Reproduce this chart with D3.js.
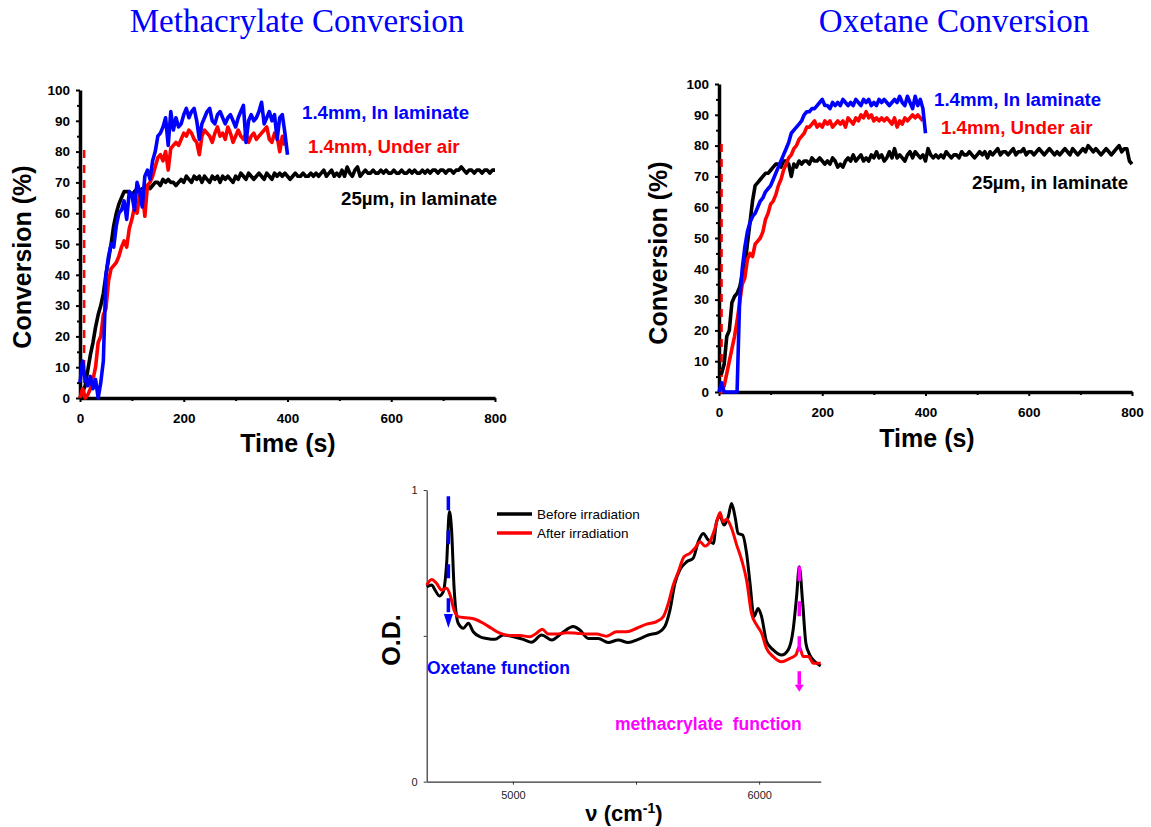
<!DOCTYPE html>
<html>
<head>
<meta charset="utf-8">
<script src="https://cdn.jsdelivr.net/npm/d3@7/dist/d3.min.js"></script>
<style>
    body { margin: 0; background: #fff; }
    svg { display: block; }
    .title { font-family: 'Times New Roman', 'Liberation Serif', serif; font-size: 33px; fill: #0000ff; text-anchor: middle; }
    .tick_lab { font-family: Arial, 'Liberation Sans', sans-serif; font-weight: bold; font-size: 13.5px; fill: #000; }
    .axis_label { font-family: Arial, 'Liberation Sans', sans-serif; font-weight: bold; font-size: 25px; fill: #000; text-anchor: middle; dominant-baseline: central; }
    .series_lab { font-family: Arial, 'Liberation Sans', sans-serif; font-weight: bold; font-size: 18.7px; dominant-baseline: central; }
    .spec_tick { font-family: Arial, 'Liberation Sans', sans-serif; font-size: 11px; fill: #222; }
    .legend_lab { font-family: Arial, 'Liberation Sans', sans-serif; font-size: 13.5px; fill: #000; dominant-baseline: central; }
</style>
</head>
<body>
<svg id="chart" width="1151" height="827"></svg>
<script>
// sampling step of the kinetic traces (s)
const STEP = 5;

// ---- Methacrylate conversion (%) every 5 s ----
const meth_blue = [
    5,12,6,4,7,3,6,0,5,12,40,46,50,49,56,60,61,64,58,67,
    66,61,70,67,62,72,74,71,77,80,85,86,88,91,82,93,87,91,88,89,
    92,94,91,93,94,90,84,89,91,93,94,90,89,92,93,91,89,91,92,90,
    88,91,93,95,83,90,92,90,91,93,96,89,91,93,90,92,84,91,92,86,
    79];
const meth_red = [
    0,3,0,1,3,6,10,18,20,27,29,38,42,43,44,46,49,51,49,55,
    58,62,60,66,67,59,69,70,72,75,78,79,77,80,74,81,82,83,82,84,
    86,85,87,86,84,83,79,85,87,86,85,83,86,88,85,86,84,88,86,83,
    85,87,85,84,86,83,85,86,84,85,86,87,88,84,83,86,85,80,85,82];
const meth_black = [
    0,2,4,9,14,18,23,27,30,34,40,45,50,56,60,63,65,67,67,67,
    66,67,68,67,68,68,69,68,69,70,70,69,71,70,71,70,70,69,70,71,
    70,72,71,70,72,71,72,70,72,71,70,72,71,72,70,72,71,72,71,70,
    72,71,73,72,71,73,72,71,72,73,72,71,73,72,71,73,72,73,72,73,
    72,71,72,73,72,72,73,72,72,73,72,73,72,73,74,72,73,74,72,73,
    72,74,72,75,73,72,74,75,72,73,74,73,73,74,73,73,74,73,74,73,
    73,74,73,73,74,73,73,74,73,74,73,73,74,73,74,73,74,74,73,74,
    74,73,74,74,73,74,74,75,74,73,74,74,73,74,74,73,74,74,73,74,
    74];

// ---- Oxetane conversion (%) every 5 s ----
const oxe_blue = [
    0,3,0,0,0,0,0,0,30,40,47,52,55,57,58,60,62,63,65,66,
    67,69,71,73,75,77,79,81,84,85,86,87,88,90,91,91,92,92,93,94,
    95,93,93,92,94,93,94,93,95,94,93,94,93,95,94,93,95,94,95,93,
    94,93,95,94,95,94,93,94,95,94,96,94,93,96,94,92,96,93,95,92,
    84];
const oxe_red = [
    0,0,2,6,10,14,18,23,29,35,37,43,45,44,48,49,50,52,56,58,
    61,62,64,67,69,72,74,76,77,79,80,82,83,84,86,86,87,88,86,87,
    86,88,87,88,86,87,88,87,88,86,89,88,87,89,88,90,89,91,89,90,
    88,89,88,89,88,89,88,87,89,86,88,87,89,88,89,90,89,90,89,88];
const oxe_black = [
    6,6,9,18,20,29,31,32,34,38,41,48,55,62,67,68,69,70,71,71,
    72,73,74,74,73,75,75,74,70,74,73,75,74,75,75,74,76,75,75,76,
    75,74,75,74,76,75,73,74,73,75,76,75,77,75,76,77,75,76,75,77,
    76,78,76,77,75,76,78,76,79,76,77,76,75,77,78,76,78,77,76,77,
    75,79,77,76,77,76,77,76,78,77,76,77,77,76,78,77,77,78,77,76,
    77,78,77,78,76,78,77,78,79,77,78,78,77,78,79,77,78,78,79,77,
    78,78,77,78,79,78,77,78,79,78,77,78,77,78,79,78,77,79,78,77,
    78,79,78,80,79,78,79,78,77,78,79,78,77,78,79,80,78,79,79,75,
    74];

// irradiation start (dashed red marker): [time s, height %]
const meth_lamp = [8, 82];
const oxe_lamp = [5, 82];

const series_names = ['1.4mm, In laminate', '1.4mm, Under air', '25µm, in laminate'];
const time_ticks = [0, 200, 400, 600, 800];
const conv_ticks = [0, 10, 20, 30, 40, 50, 60, 70, 80, 90, 100];

// ---- NIR spectra ----
const before_wn = [4650,4670,4684,4701,4717,4731,4742,4751,4761,4778,4799,4819,4839,4866,4894,4927,4961,5002,5042,5076,
    5117,5158,5198,5245,5272,5306,5347,5387,5428,5468,5509,5550,5590,5617,5638,5658,5678,5706,5732,5753,
    5773,5793,5814,5827,5841,5858,5875,5888,5902,5915,5933,5949,5963,5979,5996,6010,6030,6057,6091,6118,
    6138,6152,6163,6177,6190,6206,6227,6250];
const before_od = [.668,.674,.657,.637,.651,.749,.926,.863,.668,.543,.526,.543,.514,.497,.491,.488,.503,.497,.488,.478,
    .503,.486,.509,.532,.520,.491,.491,.477,.486,.477,.488,.503,.511,.532,.589,.680,.726,.754,.766,.823,
    .851,.829,.817,.891,.909,.880,.909,.954,.909,.851,.846,.783,.680,.566,.594,.566,.480,.452,.434,.452,
    .520,.634,.737,.611,.474,.434,.411,.397];
const after_wn = [4650,4670,4690,4711,4731,4745,4761,4778,4812,4846,4880,4913,4947,4988,5029,5069,5096,5119,5144,5177,
    5218,5259,5299,5340,5380,5421,5462,5503,5543,5584,5611,5631,5651,5672,5695,5719,5739,5760,5780,5800,
    5821,5841,5854,5868,5888,5909,5929,5949,5969,5990,6010,6030,6057,6091,6125,6149,6163,6179,6200,6220,6250];
const after_od = [.674,.693,.680,.657,.663,.640,.589,.566,.562,.557,.543,.526,.509,.501,.501,.497,.509,.523,.506,.506,
    .511,.509,.506,.506,.499,.514,.514,.526,.540,.549,.566,.611,.674,.720,.771,.783,.800,.823,.808,.823,
    .869,.923,.891,.900,.869,.811,.760,.691,.577,.537,.509,.457,.429,.411,.423,.434,.463,.429,.429,.406,.406];
const wn_ticks = [5000, 5500, 6000];
const od_ticks = [0, 0.5, 1];
// band positions: oxetane (4738) and methacrylate (6163), [wn, from OD, to OD]
const oxe_band = [4738, 0.979, 0.527];
const meth_band = [6163, 0.739, 0.308];

const FONT = "Arial, 'Liberation Sans', sans-serif";
let svg = d3.select('#chart');

function toPts(vals) {
    return vals.map((v, i) => [i * STEP, v]);
}

function draw_conv(cfg) {
    let g = svg.append('g');
    let x = d3.scaleLinear().domain([0, 800]).range([cfg.left, cfg.right]);
    let y = d3.scaleLinear().domain([0, 100]).range([cfg.bottom, cfg.top]);

    // title
    svg.append('text')
        .attr('class', 'title')
        .attr('x', cfg.titleX)
        .attr('y', 32)
        .text(cfg.title);

    // minor ticks
    g.append('g')
        .attr('transform', `translate(0, ${cfg.bottom})`)
        .call(d3.axisBottom(x).tickValues(d3.range(100, 800, 200)).tickSize(3).tickSizeOuter(0).tickFormat(''))
        .call(a => a.select('.domain').remove())
        .selectAll('line').attr('stroke-width', 2);
    g.append('g')
        .attr('transform', `translate(${cfg.left}, 0)`)
        .call(d3.axisLeft(y).tickValues(d3.range(5, 100, 10)).tickSize(3).tickSizeOuter(0).tickFormat(''))
        .call(a => a.select('.domain').remove())
        .selectAll('line').attr('stroke-width', 2);

    // x axis
    let ax = g.append('g')
        .attr('transform', `translate(0, ${cfg.bottom})`)
        .call(d3.axisBottom(x).tickValues(time_ticks).tickSize(4).tickSizeOuter(0).tickPadding(11));
    ax.select('.domain').attr('stroke-width', 3.5);
    ax.selectAll('line').attr('stroke-width', 2);
    ax.selectAll('text').attr('class', 'tick_lab').attr('font-family', null).attr('font-size', null);

    // y axis
    let ay = g.append('g')
        .attr('transform', `translate(${cfg.left}, 0)`)
        .call(d3.axisLeft(y).tickValues(conv_ticks).tickSize(4).tickSizeOuter(0).tickPadding(6));
    ay.select('.domain').attr('stroke-width', 3.5);
    ay.selectAll('line').attr('stroke-width', 2);
    ay.selectAll('text').attr('class', 'tick_lab').attr('font-family', null).attr('font-size', null);

    // axis labels
    g.append('text')
        .attr('class', 'axis_label')
        .attr('transform', `translate(${cfg.ylabX}, ${cfg.ylabY}) rotate(-90)`)
        .text('Conversion (%)');
    g.append('text')
        .attr('class', 'axis_label')
        .attr('x', cfg.xlabX)
        .attr('y', cfg.xlabY)
        .text('Time (s)');

    // lamp on marker
    g.append('line')
        .attr('x1', x(cfg.lamp[0])).attr('x2', x(cfg.lamp[0]))
        .attr('y1', y(0)).attr('y2', y(cfg.lamp[1]))
        .attr('stroke', '#ff0000')
        .attr('stroke-width', 2.5)
        .attr('stroke-dasharray', '8,7');

    let line = d3.line().x(d => x(d[0])).y(d => y(d[1]));
    let order = [[cfg.black, '#000000'], [cfg.red, '#ff0000'], [cfg.blue, '#0000ff']];
    order.forEach(s => {
        g.append('path')
            .datum(toPts(s[0]))
            .attr('d', line)
            .attr('fill', 'none')
            .attr('stroke', s[1])
            .attr('stroke-width', 3.6)
            .attr('stroke-linejoin', 'round');
    });

    // series labels
    let cols = ['#0000ff', '#ff0000', '#000000'];
    series_names.forEach((n, i) => {
        g.append('text')
            .attr('class', 'series_lab')
            .attr('x', cfg.labs[i][0])
            .attr('y', cfg.labs[i][1])
            .attr('fill', cols[i])
            .text(n);
    });
}

draw_conv({
    title: 'Methacrylate Conversion', titleX: 297,
    left: 80, right: 495, top: 90, bottom: 398,
    blue: meth_blue, red: meth_red, black: meth_black, lamp: meth_lamp,
    ylabX: 22, ylabY: 257, xlabX: 288, xlabY: 443,
    labs: [[302, 112], [308, 146], [341, 198]]
});
draw_conv({
    title: 'Oxetane Conversion', titleX: 954,
    left: 719, right: 1132, top: 84, bottom: 392,
    blue: oxe_blue, red: oxe_red, black: oxe_black, lamp: oxe_lamp,
    ylabX: 658, ylabY: 253, xlabX: 927, xlabY: 438,
    labs: [[934, 99], [941, 127], [972, 182]]
});

// ---- spectrum panel ----
function draw_spec() {
    let g = svg.append('g');
    let x = d3.scaleLinear().domain([4650, 6250]).range([426.7, 820.7]);
    let y = d3.scaleLinear().domain([0, 1]).range([781.7, 490]);

    let ax = g.append('g')
        .attr('transform', 'translate(0, 781.7)')
        .call(d3.axisBottom(x).tickValues(wn_ticks).tickSize(3).tickSizeOuter(0).tickPadding(7)
            .tickFormat(d => d === 5500 ? '' : d));
    let ay = g.append('g')
        .attr('transform', 'translate(426.7, 0)')
        .call(d3.axisLeft(y).tickValues(od_ticks).tickSize(3).tickSizeOuter(0).tickPadding(6)
            .tickFormat(d => d === 0.5 ? '' : d));
    [ax, ay].forEach(a => {
        a.select('.domain').attr('stroke', '#333').attr('stroke-width', 1.2);
        a.selectAll('line').attr('stroke', '#333');
        a.selectAll('text').attr('class', 'spec_tick').attr('font-family', null).attr('font-size', null);
    });

    // axis titles
    let xt = g.append('text')
        .attr('x', 624).attr('y', 821)
        .attr('text-anchor', 'middle')
        .attr('font-family', FONT).attr('font-weight', 'bold').attr('font-size', 22);
    xt.append('tspan').text('ν (cm');
    xt.append('tspan').attr('dy', -8).attr('font-size', 14).text('-1');
    xt.append('tspan').attr('dy', 8).text(')');
    g.append('text')
        .attr('class', 'axis_label')
        .attr('font-size', 23)
        .attr('transform', 'translate(391, 640) rotate(-90)')
        .text('O.D.');

    let line = d3.line().x(d => x(d[0])).y(d => y(d[1])).curve(d3.curveMonotoneX);
    [[d3.zip(before_wn, before_od), '#000000'], [d3.zip(after_wn, after_od), '#ff0000']].forEach(s => {
        g.append('path')
            .datum(s[0])
            .attr('d', line)
            .attr('fill', 'none')
            .attr('stroke', s[1])
            .attr('stroke-width', 3)
            .attr('stroke-linejoin', 'round');
    });

    // band arrows (dashed)
    function band_arrow(b, col, dash, head) {
        let bx = x(b[0]);
        let y1 = y(b[1]), y2 = y(b[2]);
        g.append('line')
            .attr('x1', bx).attr('x2', bx)
            .attr('y1', y1).attr('y2', y2 - head)
            .attr('stroke', col)
            .attr('stroke-width', 3.5)
            .attr('stroke-dasharray', dash);
        g.append('path')
            .attr('d', `M${bx - 4.5},${y2 - head} L${bx + 4.5},${y2 - head} L${bx},${y2} Z`)
            .attr('fill', col);
    }
    band_arrow(oxe_band, '#0000ff', '14,20', 14);
    band_arrow(meth_band, '#ff00ff', '15,20', 7);

    g.append('text')
        .attr('x', 427).attr('y', 668)
        .attr('font-family', FONT).attr('font-weight', 'bold').attr('font-size', 17.5)
        .attr('fill', '#0000ff')
        .attr('dominant-baseline', 'central')
        .text('Oxetane function');
    g.append('text')
        .attr('x', 615).attr('y', 724)
        .attr('font-family', FONT).attr('font-weight', 'bold').attr('font-size', 17.5)
        .attr('fill', '#ff00ff')
        .attr('dominant-baseline', 'central')
        .attr('xml:space', 'preserve')
        .style('white-space', 'pre')
        .text('methacrylate  function');

    // legend
    let leg = [['Before irradiation', '#000000', 514], ['After irradiation', '#ff0000', 533]];
    leg.forEach(l => {
        g.append('line')
            .attr('x1', 497).attr('x2', 532)
            .attr('y1', l[2]).attr('y2', l[2])
            .attr('stroke', l[1]).attr('stroke-width', 3.5);
        g.append('text')
            .attr('class', 'legend_lab')
            .attr('x', 537).attr('y', l[2])
            .text(l[0]);
    });
}

draw_spec();
</script>
</body>
</html>
